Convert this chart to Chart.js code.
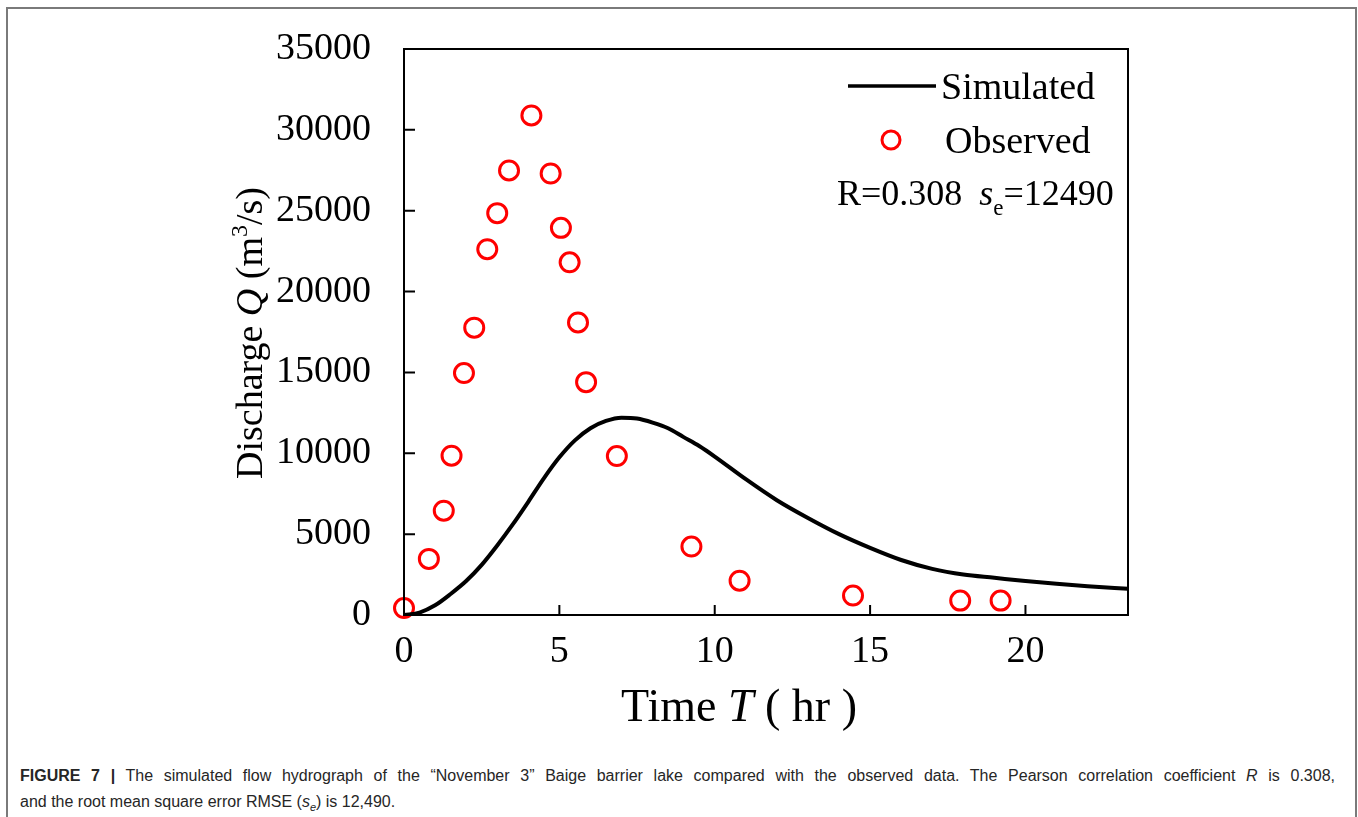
<!DOCTYPE html>
<html>
<head>
<meta charset="utf-8">
<script src="https://cdn.jsdelivr.net/npm/chart.js@4.4.0/dist/chart.umd.min.js"></script>
<style>
  body { margin: 0; background: #fff; }
  #frame { position: absolute; left: 6px; top: 7px; width: 1347px; height: 840px; border: 2px solid #7a7a7a; border-bottom: none; }
  #wrap { position: absolute; left: 0; top: 0; width: 1358px; height: 740px; }
  .cap { position: absolute; left: 20px; font: 16px "Liberation Sans", Arial, sans-serif; color: #262626; line-height: 26px; white-space: nowrap; }
  #cap1 { top: 763px; width: 1315px; text-align: justify; text-align-last: justify; }
  #cap2 { top: 789px; }
  .cap sub { font-size: 11px; }
</style>
</head>
<body>
<div id="frame"></div>
<div id="wrap"><canvas id="hydro" width="1358" height="740"></canvas></div>
<div class="cap" id="cap1"><b>FIGURE 7 |</b> The simulated flow hydrograph of the “November 3” Baige barrier lake compared with the observed data. The Pearson correlation coefficient <i>R</i> is 0.308,</div>
<div class="cap" id="cap2">and the root mean square error RMSE (<i>s<sub>e</sub></i>) is 12,490.</div>
<script>
// simulated hydrograph (hr, m3/s)
const simTime = [0, 0.5, 1, 1.5, 2, 2.5, 3, 3.5, 4, 4.5, 5, 5.5, 6, 6.5, 7, 7.5, 8, 8.5, 9, 9.5, 10, 11, 12, 13, 14, 15, 16, 17, 18, 19, 20, 21, 22, 23.3];
const simQ = [0, 150, 600, 1300, 2100, 3100, 4300, 5600, 7000, 8450, 9750, 10800, 11550, 12000, 12200, 12150, 11900, 11550, 11000, 10450, 9800, 8400, 7100, 6000, 5000, 4150, 3400, 2850, 2500, 2300, 2100, 1930, 1780, 1620];

// observed discharge
const obsTime = [0, 0.8, 1.28, 1.53, 1.93, 2.26, 2.68, 3.0, 3.38, 4.1, 4.72, 5.05, 5.33, 5.6, 5.86, 6.85, 9.25, 10.8, 14.45, 17.9, 19.2];
const obsQ = [430, 3470, 6450, 9850, 14960, 17770, 22620, 24850, 27490, 30890, 27300, 23940, 21810, 18090, 14400, 9830, 4230, 2120, 1200, 890, 890];

const xTicks = [0, 5, 10, 15, 20];
const yTicks = [0, 5000, 10000, 15000, 20000, 25000, 30000, 35000];

const serif = '"Liberation Serif", "Times New Roman", serif';

// draws the closed box, inward ticks, axis titles and the legend
const decorations = {
  id: "decorations",
  afterDraw(chart) {
    const ctx = chart.ctx;
    const a = chart.chartArea;
    const xs = chart.scales.x, ys = chart.scales.y;
    ctx.save();
    ctx.strokeStyle = "#000";
    ctx.lineWidth = 2;
    ctx.strokeRect(a.left, a.top, a.right - a.left, a.bottom - a.top);

    ctx.beginPath();
    xTicks.forEach(v => {
      const px = xs.getPixelForValue(v);
      ctx.moveTo(px, a.bottom);
      ctx.lineTo(px, a.bottom - 10);
    });
    yTicks.forEach(v => {
      const py = ys.getPixelForValue(v);
      ctx.moveTo(a.left, py);
      ctx.lineTo(a.left + 11, py);
    });
    ctx.stroke();

    ctx.fillStyle = "#000";
    ctx.textBaseline = "alphabetic";

    // helper: draw runs of text with different fonts, centred on cx
    function runs(parts, cx, y) {
      let total = 0;
      parts.forEach(p => { ctx.font = p.font; p.w = ctx.measureText(p.t).width; total += p.w; });
      let x = cx - total / 2;
      ctx.textAlign = "left";
      parts.forEach(p => {
        ctx.font = p.font;
        ctx.fillText(p.t, x, y + (p.dy || 0));
        x += p.w;
      });
    }

    // x title
    runs([
      { t: "Time ", font: "46px " + serif },
      { t: "T", font: "italic 46px " + serif },
      { t: " ( hr )", font: "46px " + serif }
    ], 739, 721);

    // y title
    ctx.save();
    ctx.translate(262, 333);
    ctx.rotate(-Math.PI / 2);
    runs([
      { t: "Discharge ", font: "38px " + serif },
      { t: "Q", font: "italic 38px " + serif },
      { t: " (m", font: "38px " + serif },
      { t: "3", font: "24px " + serif, dy: -15 },
      { t: "/s)", font: "38px " + serif }
    ], 0, 0);
    ctx.restore();

    // legend
    ctx.lineWidth = 3.5;
    ctx.beginPath();
    ctx.moveTo(848, 86);
    ctx.lineTo(936, 86);
    ctx.stroke();
    ctx.textAlign = "left";
    ctx.font = "38px " + serif;
    ctx.fillText("Simulated", 941, 99);
    ctx.strokeStyle = "#ff0000";
    ctx.lineWidth = 3;
    ctx.beginPath();
    ctx.arc(891, 140, 9, 0, Math.PI * 2);
    ctx.stroke();
    ctx.fillText("Observed", 945, 153);

    ctx.font = "36px " + serif;
    ctx.fillText("R=0.308", 837, 205);
    let x = 837 + ctx.measureText("R=0.308").width + 17;
    ctx.font = "italic 36px " + serif;
    ctx.fillText("s", x, 205);
    x += ctx.measureText("s").width;
    ctx.font = "23px " + serif;
    ctx.fillText("e", x, 215);
    x += ctx.measureText("e").width;
    ctx.font = "36px " + serif;
    ctx.fillText("=12490", x, 205);
    ctx.restore();
  }
};

new Chart(document.getElementById("hydro"), {
  type: "scatter",
  data: {
    datasets: [
      {
        label: "Simulated",
        data: simTime.map((t, i) => ({ x: t, y: simQ[i] })),
        showLine: true,
        borderColor: "#000",
        borderWidth: 4,
        pointRadius: 0,
        cubicInterpolationMode: "monotone",
        fill: false
      },
      {
        label: "Observed",
        data: obsTime.map((t, i) => ({ x: t, y: obsQ[i] })),
        showLine: false,
        pointStyle: "circle",
        pointRadius: 9.5,
        borderWidth: 3,
        borderColor: "#ff0000",
        backgroundColor: "rgba(255,255,255,0)",
        clip: false
      }
    ]
  },
  options: {
    responsive: false,
    animation: false,
    events: [],
    layout: { autoPadding: false, padding: { left: 254, top: 49, right: 230, bottom: 15 } },
    plugins: { legend: { display: false }, tooltip: { enabled: false } },
    scales: {
      x: {
        type: "linear",
        min: 0,
        max: 23.3,
        grid: { display: false, drawTicks: false },
        border: { display: true, color: "#000", width: 2 },
        afterBuildTicks: s => { s.ticks = xTicks.map(v => ({ value: v })); },
        afterFit: s => { s.height = 110; s.paddingLeft = 0; s.paddingRight = 0; },
        ticks: { color: "#000", font: { family: serif, size: 38 }, padding: 14, maxRotation: 0 }
      },
      y: {
        min: 0,
        max: 35000,
        grid: { display: false, drawTicks: false },
        border: { display: true, color: "#000", width: 2 },
        afterBuildTicks: s => { s.ticks = yTicks.map(v => ({ value: v })); },
        afterFit: s => { s.width = 150; s.paddingTop = 0; s.paddingBottom = 0; },
        ticks: { color: "#000", font: { family: serif, size: 38 }, padding: 33, callback: v => String(v) }
      }
    }
  },
  plugins: [decorations]
});
</script>
</body>
</html>
